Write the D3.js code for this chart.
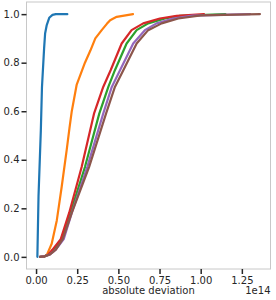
<!DOCTYPE html>
<html>
<head>
  <meta charset="utf-8">
  <script src="https://d3js.org/d3.v7.min.js"></script>
  <style>
    body { margin: 0; background: #fff; }
    text { font-family: "DejaVu Sans", sans-serif; }
  </style>
</head>
<body>
  <div id="chart"></div>
  <script>
    "use strict"

    // x in units of 1e14, y = cumulative fraction
    var blueX   = [0.008, 0.015, 0.029, 0.036, 0.049, 0.055, 0.065, 0.08, 0.10, 0.12, 0.19];
    var blueY   = [0, 0.25, 0.52, 0.70, 0.86, 0.92, 0.955, 0.985, 0.997, 1.0, 1.0];

    var orangeX = [0.049, 0.067, 0.095, 0.126, 0.156, 0.186, 0.203, 0.217, 0.247, 0.297, 0.33, 0.36, 0.40, 0.43, 0.45, 0.49, 0.589];
    var orangeY = [0, 0.01, 0.054, 0.15, 0.29, 0.44, 0.53, 0.60, 0.71, 0.80, 0.85, 0.90, 0.935, 0.96, 0.975, 0.989, 1.0];

    var greenX  = [0.024, 0.05, 0.08, 0.11, 0.156, 0.21, 0.297, 0.384, 0.439, 0.479, 0.55, 0.611, 0.681, 0.783, 0.874, 1.15];
    var greenY  = [0, 0.002, 0.01, 0.03, 0.073, 0.183, 0.37, 0.59, 0.70, 0.769, 0.879, 0.934, 0.962, 0.982, 0.993, 1.0];

    var redX    = [0.024, 0.05, 0.075, 0.10, 0.15, 0.202, 0.277, 0.352, 0.408, 0.453, 0.52, 0.58, 0.651, 0.752, 0.854, 1.02];
    var redY    = [0, 0.002, 0.01, 0.03, 0.073, 0.183, 0.37, 0.59, 0.70, 0.769, 0.879, 0.934, 0.962, 0.982, 0.993, 1.0];

    var purpleX = [0.024, 0.05, 0.085, 0.12, 0.168, 0.218, 0.311, 0.408, 0.46, 0.51, 0.59, 0.661, 0.732, 0.833, 0.95, 1.30];
    var purpleY = [0, 0.002, 0.01, 0.03, 0.073, 0.183, 0.37, 0.59, 0.70, 0.769, 0.879, 0.934, 0.962, 0.982, 0.994, 1.0];

    var brownX  = [0.024, 0.05, 0.085, 0.12, 0.162, 0.218, 0.322, 0.425, 0.479, 0.53, 0.611, 0.681, 0.763, 0.864, 1.0, 1.36];
    var brownY  = [0, 0.002, 0.01, 0.03, 0.073, 0.183, 0.37, 0.59, 0.70, 0.769, 0.879, 0.934, 0.962, 0.982, 0.995, 1.0];

    var xTicks = [0, 0.25, 0.5, 0.75, 1.0, 1.25];
    var yTicks = [0, 0.2, 0.4, 0.6, 0.8, 1.0];

    var series = [
      {x: blueX,   y: blueY,   cor: '#1f77b4'},
      {x: orangeX, y: orangeY, cor: '#ff7f0e'},
      {x: greenX,  y: greenY,  cor: '#2ca02c'},
      {x: redX,    y: redY,    cor: '#d62728'},
      {x: purpleX, y: purpleY, cor: '#9467bd'},
      {x: brownX,  y: brownY,  cor: '#8c564b'}
    ];

    var larguraSVG = 276, alturaSVG = 300;
    var margin = {top: 2, right: 5.5, bottom: 31, left: 26.5},
        larguraVis = larguraSVG - margin.left - margin.right,
        alturaVis = alturaSVG - margin.top - margin.bottom;

    var x = d3.scaleLinear().domain([-0.058, 1.424]).range([0, larguraVis]);
    var y = d3.scaleLinear().domain([-0.05, 1.05]).range([alturaVis, 0]);

    var svg = d3.select('#chart').append('svg')
        .attr('width', larguraSVG)
        .attr('height', alturaSVG);

    var g = svg.append('g')
        .attr('transform', 'translate(' + margin.left + ',' + margin.top + ')');

    var linha = d3.line()
        .x(d => x(d[0]))
        .y(d => y(d[1]));

    series.forEach(function(s) {
      g.append('path')
        .datum(s.x.map((v, i) => [v, s.y[i]]))
        .attr('fill', 'none')
        .attr('stroke', s.cor)
        .attr('stroke-width', 2.2)
        .attr('stroke-linejoin', 'round')
        .attr('stroke-linecap', 'round')
        .attr('d', linha);
    });

    // moldura
    g.append('rect')
      .attr('x', 0).attr('y', 0)
      .attr('width', larguraVis).attr('height', alturaVis)
      .attr('fill', 'none')
      .attr('stroke', '#c8c8c8')
      .attr('stroke-width', 1);

    var eixoX = g.append('g')
      .attr('transform', 'translate(0,' + alturaVis + ')')
      .call(d3.axisBottom(x).tickValues(xTicks).tickFormat(d3.format('.2f')).tickSize(5).tickPadding(3));

    var eixoY = g.append('g')
      .call(d3.axisLeft(y).tickValues(yTicks).tickFormat(d3.format('.1f')).tickSize(5).tickPadding(2));

    [eixoX, eixoY].forEach(function(e) {
      e.select('.domain').remove();
      e.selectAll('line').attr('stroke', '#262626').attr('stroke-width', 1.5);
      e.selectAll('text').attr('fill', '#262626').style('font-size', '10px')
        .style('font-family', '"DejaVu Sans", sans-serif');
    });

    svg.append('text')
      .attr('x', margin.left + larguraVis / 2)
      .attr('y', 294)
      .attr('text-anchor', 'middle')
      .attr('fill', '#262626')
      .style('font-size', '10px')
      .text('absolute deviation');

    svg.append('text')
      .attr('x', margin.left + larguraVis)
      .attr('y', 294)
      .attr('text-anchor', 'end')
      .attr('fill', '#262626')
      .style('font-size', '10px')
      .text('1e14');
  </script>
</body>
</html>
